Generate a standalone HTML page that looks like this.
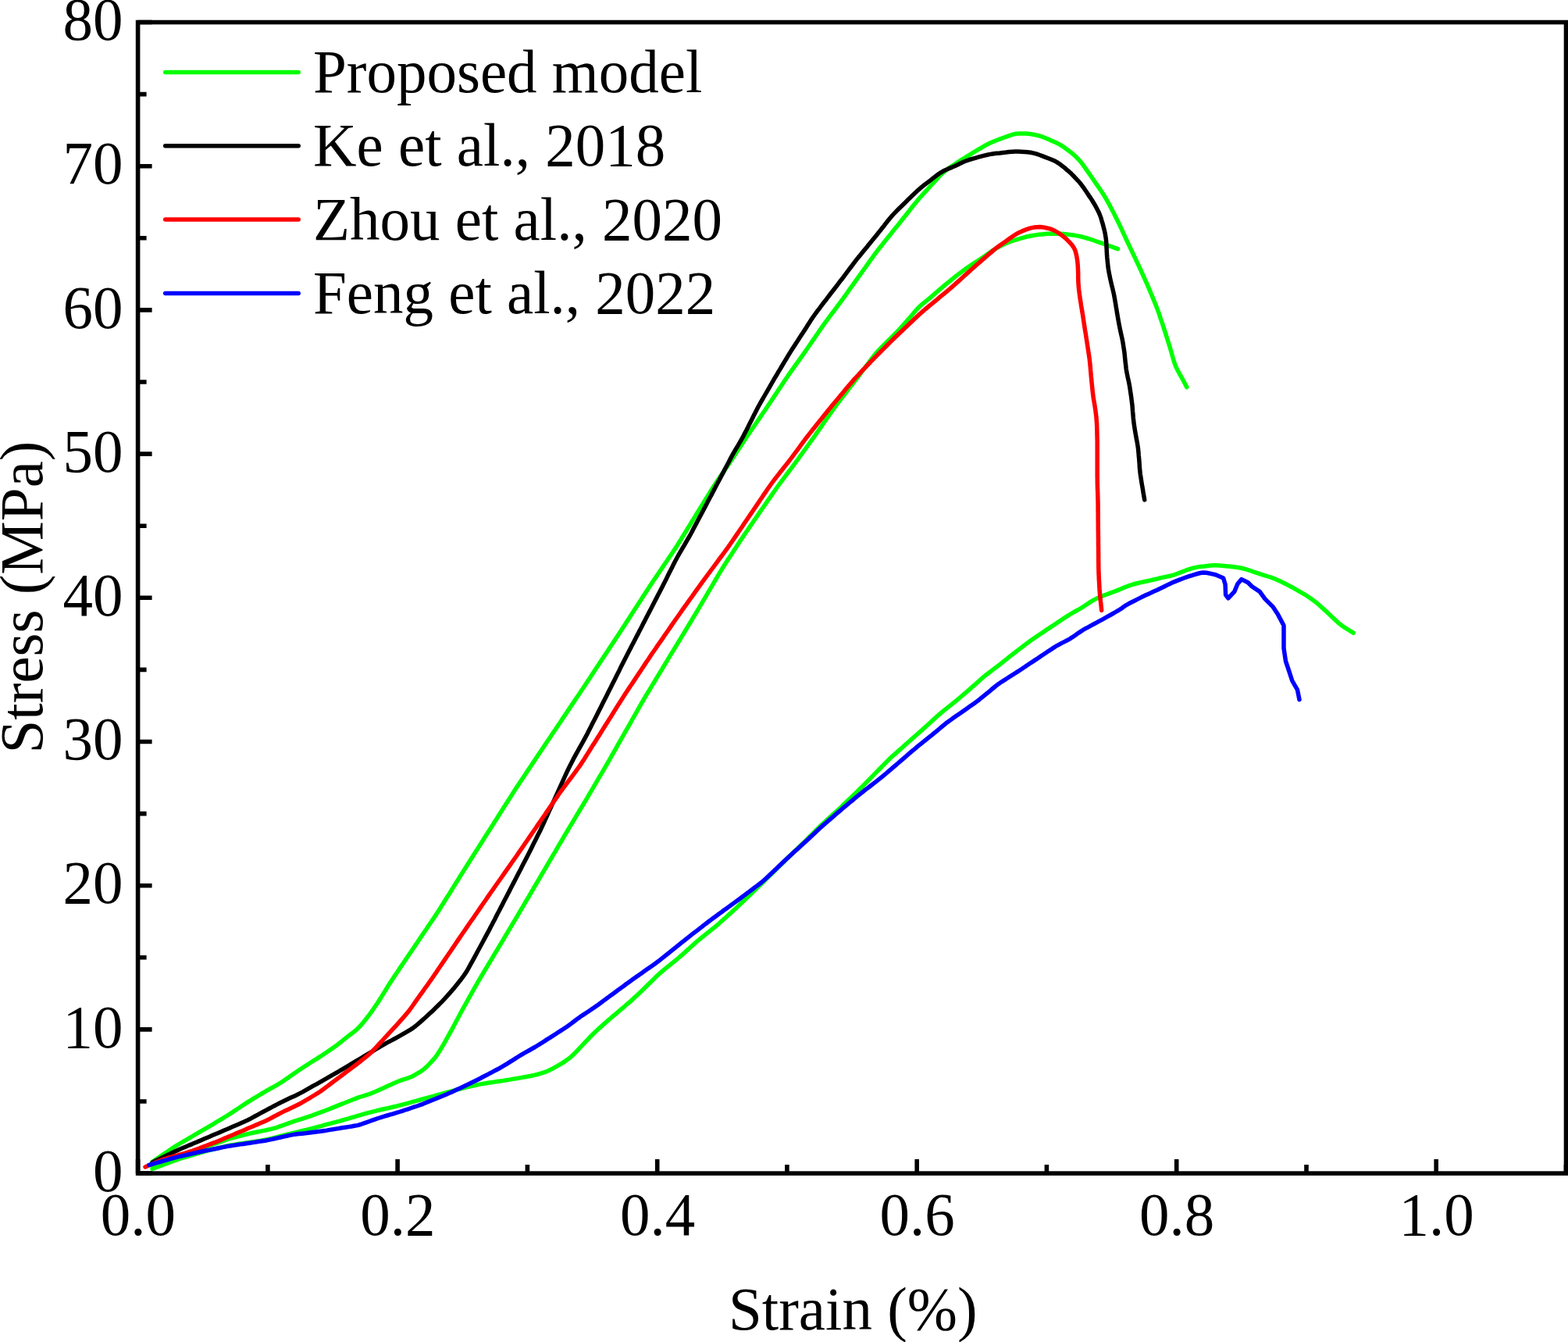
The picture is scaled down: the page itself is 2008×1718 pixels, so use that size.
<!DOCTYPE html>
<html><head><meta charset="utf-8"><title>Stress-strain</title>
<style>html,body{margin:0;padding:0;background:#fff;}body{width:2008px;height:1718px;overflow:hidden;}svg{display:block;}</style>
</head><body>
<svg width="2008" height="1718" viewBox="0 0 2008 1718"><rect width="2008" height="1718" fill="#fff"/><path d="M195.1,1496.4 L198.9,1495.0 L202.6,1493.6 L206.4,1492.2 L210.1,1490.7 L213.9,1489.3 L217.6,1487.9 L221.4,1486.5 L225.1,1485.2 L228.9,1483.9 L232.7,1482.7 L236.6,1481.6 L240.4,1480.4 L244.2,1479.3 L248.1,1478.1 L251.9,1477.0 L255.8,1475.8 L259.6,1474.8 L263.5,1473.7 L267.4,1472.7 L271.2,1471.8 L275.1,1470.8 L279.0,1469.8 L282.9,1468.9 L286.8,1467.9 L290.7,1467.0 L294.6,1466.2 L298.5,1465.6 L302.5,1464.9 L306.4,1464.3 L310.4,1463.8 L314.4,1463.2 L318.3,1462.6 L322.3,1462.0 L326.2,1461.4 L330.2,1460.8 L334.2,1460.2 L338.1,1459.5 L342.0,1458.8 L345.9,1457.9 L349.8,1457.0 L353.7,1456.0 L357.6,1454.9 L361.4,1453.9 L365.3,1452.9 L369.2,1451.9 L373.1,1451.0 L377.0,1450.1 L380.9,1449.2 L384.8,1448.2 L388.7,1447.3 L392.5,1446.4 L396.4,1445.4 L400.3,1444.4 L404.2,1443.3 L408.0,1442.3 L411.9,1441.3 L415.8,1440.2 L419.6,1439.2 L423.5,1438.2 L427.4,1437.1 L431.2,1436.1 L435.1,1435.1 L439.0,1434.0 L442.8,1432.9 L446.7,1431.8 L450.5,1430.7 L454.3,1429.6 L458.2,1428.4 L462.0,1427.3 L465.9,1426.2 L469.7,1425.1 L473.6,1424.1 L477.5,1423.1 L481.4,1422.2 L485.2,1421.2 L489.1,1420.3 L493.0,1419.5 L497.0,1418.6 L500.9,1417.7 L504.8,1416.8 L508.7,1415.9 L512.5,1414.9 L516.4,1413.9 L520.3,1412.8 L524.1,1411.8 L528.0,1410.7 L531.8,1409.6 L535.7,1408.6 L539.6,1407.5 L543.4,1406.5 L547.3,1405.4 L551.1,1404.3 L555.0,1403.3 L558.9,1402.2 L562.7,1401.2 L566.6,1400.1 L570.4,1399.0 L574.3,1398.0 L578.2,1396.9 L582.0,1395.9 L585.9,1394.9 L589.8,1393.8 L593.6,1392.8 L597.5,1391.8 L601.4,1390.8 L605.3,1390.0 L609.2,1389.2 L613.1,1388.4 L617.1,1387.6 L621.0,1387.0 L625.0,1386.3 L628.9,1385.7 L632.9,1385.1 L636.8,1384.6 L640.8,1384.0 L644.8,1383.4 L648.7,1382.7 L652.7,1382.1 L656.6,1381.4 L660.6,1380.8 L664.5,1380.1 L668.4,1379.4 L672.4,1378.7 L676.3,1378.0 L680.3,1377.3 L684.2,1376.4 L688.0,1375.5 L691.9,1374.4 L695.7,1373.2 L699.5,1371.9 L703.1,1370.3 L706.7,1368.6 L710.2,1366.7 L713.7,1364.7 L717.2,1362.7 L720.6,1360.6 L723.9,1358.4 L727.2,1356.1 L730.3,1353.6 L733.3,1351.0 L736.1,1348.2 L738.9,1345.3 L741.7,1342.4 L744.4,1339.5 L747.2,1336.6 L749.9,1333.7 L752.7,1330.8 L755.4,1327.9 L758.2,1325.0 L761.1,1322.2 L764.0,1319.5 L766.9,1316.8 L769.9,1314.1 L772.9,1311.4 L775.9,1308.8 L778.9,1306.1 L782.0,1303.5 L785.0,1300.9 L788.1,1298.3 L791.1,1295.8 L794.2,1293.2 L797.2,1290.6 L800.3,1288.0 L803.3,1285.4 L806.3,1282.8 L809.3,1280.1 L812.3,1277.4 L815.2,1274.7 L818.1,1271.9 L821.0,1269.2 L823.9,1266.4 L826.8,1263.6 L829.7,1260.8 L832.5,1258.0 L835.4,1255.2 L838.2,1252.4 L841.1,1249.6 L844.0,1246.9 L847.0,1244.3 L850.1,1241.7 L853.2,1239.2 L856.3,1236.7 L859.4,1234.2 L862.5,1231.6 L865.6,1229.1 L868.7,1226.5 L871.7,1223.9 L874.7,1221.3 L877.7,1218.6 L880.7,1215.9 L883.6,1213.2 L886.6,1210.5 L889.6,1207.9 L892.6,1205.2 L895.7,1202.7 L898.8,1200.1 L901.9,1197.6 L905.0,1195.1 L908.1,1192.6 L911.2,1190.1 L914.4,1187.6 L917.5,1185.1 L920.5,1182.5 L923.5,1179.8 L926.5,1177.1 L929.5,1174.5 L932.4,1171.8 L935.4,1169.1 L938.4,1166.4 L941.4,1163.7 L944.3,1161.0 L947.2,1158.3 L950.1,1155.5 L953.0,1152.7 L955.8,1149.9 L958.7,1147.2 L961.6,1144.4 L964.5,1141.6 L967.4,1138.8 L970.2,1136.0 L973.1,1133.2 L976.0,1130.5 L978.9,1127.7 L981.7,1124.9 L984.6,1122.1 L987.5,1119.3 L990.4,1116.6 L993.2,1113.8 L996.1,1110.9 L998.9,1108.1 L1001.8,1105.3 L1004.6,1102.5 L1007.4,1099.6 L1010.3,1096.8 L1013.2,1094.1 L1016.0,1091.3 L1018.9,1088.5 L1021.8,1085.8 L1024.7,1083.0 L1027.6,1080.2 L1030.5,1077.4 L1033.3,1074.6 L1036.1,1071.8 L1039.0,1068.9 L1041.8,1066.1 L1044.6,1063.3 L1047.5,1060.4 L1050.3,1057.6 L1053.2,1054.9 L1056.2,1052.2 L1059.1,1049.5 L1062.1,1046.8 L1065.1,1044.1 L1068.0,1041.4 L1071.0,1038.8 L1074.0,1036.1 L1076.9,1033.4 L1079.8,1030.6 L1082.7,1027.8 L1085.6,1025.1 L1088.5,1022.3 L1091.4,1019.5 L1094.2,1016.7 L1097.1,1013.9 L1100.0,1011.1 L1102.8,1008.3 L1105.7,1005.5 L1108.5,1002.6 L1111.3,999.8 L1114.1,996.9 L1116.9,994.1 L1119.7,991.2 L1122.5,988.4 L1125.3,985.5 L1128.1,982.7 L1130.9,979.8 L1133.7,977.0 L1136.6,974.1 L1139.4,971.3 L1142.3,968.6 L1145.3,965.9 L1148.3,963.3 L1151.3,960.6 L1154.3,958.0 L1157.3,955.3 L1160.3,952.7 L1163.3,950.0 L1166.3,947.3 L1169.3,944.7 L1172.3,942.0 L1175.3,939.4 L1178.3,936.7 L1181.3,934.1 L1184.2,931.4 L1187.2,928.7 L1190.2,926.0 L1193.1,923.3 L1196.1,920.6 L1199.0,917.9 L1202.0,915.3 L1205.1,912.7 L1208.2,910.1 L1211.3,907.6 L1214.4,905.2 L1217.6,902.7 L1220.7,900.2 L1223.8,897.6 L1226.9,895.1 L1229.9,892.5 L1233.0,889.9 L1236.0,887.3 L1239.1,884.7 L1242.1,882.1 L1245.1,879.4 L1248.1,876.8 L1251.1,874.1 L1254.1,871.5 L1257.1,868.8 L1260.1,866.2 L1263.2,863.7 L1266.4,861.3 L1269.6,858.8 L1272.8,856.4 L1276.0,854.0 L1279.1,851.6 L1282.3,849.1 L1285.4,846.6 L1288.6,844.1 L1291.7,841.6 L1294.8,839.1 L1298.0,836.7 L1301.2,834.2 L1304.3,831.8 L1307.5,829.4 L1310.7,826.9 L1313.9,824.5 L1317.1,822.1 L1320.3,819.7 L1323.6,817.5 L1326.9,815.2 L1330.2,813.0 L1333.6,810.8 L1336.9,808.6 L1340.2,806.3 L1343.5,804.1 L1346.9,801.9 L1350.2,799.7 L1353.5,797.4 L1356.9,795.2 L1360.2,793.0 L1363.5,790.8 L1366.9,788.6 L1370.3,786.5 L1373.7,784.5 L1377.2,782.5 L1380.7,780.6 L1384.2,778.6 L1387.6,776.5 L1390.9,774.3 L1394.2,772.1 L1397.6,769.9 L1401.0,767.9 L1404.6,766.1 L1408.2,764.5 L1411.9,762.9 L1415.7,761.5 L1419.4,760.1 L1423.2,758.7 L1426.9,757.4 L1430.7,755.9 L1434.4,754.4 L1438.0,752.8 L1441.7,751.3 L1445.5,749.9 L1449.3,748.6 L1453.1,747.5 L1457.0,746.5 L1460.9,745.6 L1464.8,744.8 L1468.7,744.0 L1472.6,743.1 L1476.5,742.2 L1480.4,741.3 L1484.3,740.3 L1488.2,739.4 L1492.1,738.6 L1496.0,737.8 L1499.9,737.0 L1503.7,735.8 L1507.4,734.5 L1511.2,733.0 L1514.9,731.6 L1518.6,730.2 L1522.4,728.9 L1526.2,727.7 L1530.1,726.7 L1534.0,725.9 L1538.0,725.3 L1541.9,724.9 L1545.9,724.4 L1549.9,724.1 L1553.9,723.8 L1557.9,723.7 L1561.8,723.9 L1565.8,724.3 L1569.8,724.7 L1573.8,725.1 L1577.7,725.5 L1581.7,726.0 L1585.7,726.5 L1589.6,727.3 L1593.5,728.2 L1597.3,729.3 L1601.1,730.5 L1604.9,731.8 L1608.7,733.1 L1612.5,734.3 L1616.3,735.6 L1620.1,736.8 L1623.9,738.0 L1627.7,739.2 L1631.5,740.6 L1635.2,742.2 L1638.8,743.8 L1642.4,745.5 L1646.0,747.3 L1649.6,749.1 L1653.1,751.0 L1656.6,752.9 L1660.1,754.8 L1663.6,756.8 L1667.1,758.8 L1670.5,760.8 L1673.9,763.0 L1677.2,765.2 L1680.5,767.5 L1683.7,769.9 L1686.8,772.4 L1689.9,775.0 L1692.8,777.7 L1695.8,780.4 L1698.7,783.1 L1701.6,785.8 L1704.5,788.6 L1707.4,791.3 L1710.4,794.1 L1713.3,796.8 L1716.4,799.3 L1719.6,801.7 L1722.9,803.9 L1726.3,806.0 L1729.7,808.1 L1733.1,810.2" fill="none" stroke="#00ff00" stroke-width="5.5" stroke-linejoin="round" stroke-linecap="round"/><path d="M194.3,1492.2 L198.1,1490.9 L201.8,1489.5 L205.6,1488.1 L209.3,1486.7 L213.1,1485.3 L216.8,1483.9 L220.6,1482.6 L224.4,1481.2 L228.1,1479.9 L231.9,1478.6 L235.7,1477.4 L239.5,1476.2 L243.3,1474.9 L247.2,1473.7 L251.0,1472.5 L254.8,1471.2 L258.6,1469.9 L262.3,1468.7 L266.1,1467.4 L269.9,1466.0 L273.7,1464.7 L277.5,1463.4 L281.2,1462.1 L285.0,1460.8 L288.8,1459.5 L292.6,1458.2 L296.4,1457.1 L300.3,1456.0 L304.2,1455.0 L308.0,1454.0 L311.9,1453.0 L315.8,1452.0 L319.7,1451.1 L323.6,1450.3 L327.5,1449.5 L331.4,1448.7 L335.3,1447.9 L339.3,1447.1 L343.2,1446.3 L347.1,1445.4 L350.9,1444.4 L354.8,1443.3 L358.5,1441.9 L362.3,1440.6 L366.0,1439.2 L369.8,1437.8 L373.6,1436.5 L377.4,1435.2 L381.2,1434.0 L385.0,1432.9 L388.8,1431.7 L392.6,1430.4 L396.4,1429.1 L400.2,1427.8 L403.9,1426.4 L407.7,1425.0 L411.4,1423.7 L415.2,1422.3 L418.9,1420.8 L422.7,1419.4 L426.4,1417.9 L430.1,1416.4 L433.8,1414.9 L437.5,1413.4 L441.2,1412.0 L444.9,1410.5 L448.7,1409.0 L452.4,1407.5 L456.1,1406.1 L459.9,1404.7 L463.7,1403.5 L467.5,1402.3 L471.3,1401.1 L475.1,1399.8 L478.8,1398.3 L482.5,1396.8 L486.1,1395.1 L489.8,1393.5 L493.4,1391.8 L497.0,1390.1 L500.7,1388.4 L504.3,1386.7 L507.9,1385.2 L511.7,1383.7 L515.4,1382.4 L519.3,1381.2 L523.0,1379.9 L526.7,1378.5 L530.3,1376.7 L533.7,1374.7 L537.2,1372.7 L540.5,1370.5 L543.6,1368.1 L546.6,1365.4 L549.4,1362.6 L552.1,1359.7 L554.8,1356.7 L557.4,1353.7 L559.7,1350.5 L561.9,1347.1 L564.0,1343.7 L566.0,1340.3 L568.1,1336.8 L570.1,1333.3 L572.0,1329.9 L574.0,1326.4 L575.9,1322.9 L577.9,1319.4 L579.8,1315.9 L581.7,1312.3 L583.5,1308.8 L585.4,1305.3 L587.3,1301.7 L589.1,1298.2 L591.0,1294.7 L593.0,1291.2 L594.9,1287.7 L596.9,1284.2 L598.8,1280.7 L600.8,1277.2 L602.7,1273.7 L604.7,1270.2 L606.6,1266.7 L608.6,1263.2 L610.6,1259.8 L612.5,1256.3 L614.6,1252.8 L616.6,1249.4 L618.7,1245.9 L620.7,1242.5 L622.8,1239.1 L624.8,1235.6 L626.9,1232.2 L628.9,1228.8 L631.0,1225.4 L633.0,1221.9 L635.1,1218.5 L637.2,1215.1 L639.2,1211.6 L641.3,1208.2 L643.3,1204.8 L645.4,1201.3 L647.4,1197.9 L649.5,1194.5 L651.5,1191.0 L653.6,1187.6 L655.6,1184.2 L657.7,1180.7 L659.7,1177.3 L661.8,1173.8 L663.8,1170.4 L665.8,1166.9 L667.9,1163.5 L669.9,1160.0 L671.9,1156.6 L673.9,1153.1 L676.0,1149.7 L678.0,1146.3 L680.0,1142.8 L682.1,1139.4 L684.1,1135.9 L686.1,1132.5 L688.1,1129.0 L690.2,1125.6 L692.2,1122.1 L694.2,1118.7 L696.3,1115.2 L698.3,1111.8 L700.3,1108.3 L702.3,1104.9 L704.4,1101.4 L706.4,1098.0 L708.4,1094.5 L710.5,1091.1 L712.5,1087.6 L714.5,1084.2 L716.5,1080.7 L718.6,1077.3 L720.6,1073.8 L722.6,1070.4 L724.7,1066.9 L726.7,1063.5 L728.7,1060.1 L730.8,1056.6 L732.9,1053.2 L734.9,1049.8 L737.0,1046.3 L739.0,1042.9 L741.1,1039.5 L743.2,1036.0 L745.2,1032.6 L747.3,1029.2 L749.3,1025.8 L751.4,1022.3 L753.4,1018.9 L755.4,1015.4 L757.5,1012.0 L759.5,1008.5 L761.5,1005.1 L763.6,1001.6 L765.6,998.2 L767.6,994.7 L769.6,991.3 L771.7,987.8 L773.7,984.4 L775.7,980.9 L777.7,977.5 L779.7,974.0 L781.7,970.5 L783.6,967.0 L785.6,963.6 L787.6,960.1 L789.6,956.6 L791.5,953.1 L793.5,949.6 L795.5,946.2 L797.5,942.7 L799.4,939.2 L801.4,935.7 L803.4,932.3 L805.4,928.8 L807.4,925.3 L809.3,921.8 L811.3,918.3 L813.3,914.9 L815.3,911.4 L817.2,907.9 L819.2,904.4 L821.2,900.9 L823.2,897.5 L825.2,894.0 L827.2,890.6 L829.3,887.1 L831.4,883.7 L833.4,880.3 L835.5,876.9 L837.6,873.5 L839.7,870.0 L841.7,866.6 L843.8,863.2 L845.9,859.8 L848.0,856.4 L850.0,852.9 L852.1,849.5 L854.2,846.1 L856.2,842.7 L858.3,839.2 L860.4,835.8 L862.5,832.4 L864.5,829.0 L866.6,825.6 L868.7,822.1 L870.8,818.7 L872.8,815.3 L874.9,811.9 L877.0,808.5 L879.1,805.0 L881.1,801.6 L883.2,798.2 L885.3,794.8 L887.3,791.3 L889.4,787.9 L891.5,784.5 L893.5,781.1 L895.6,777.6 L897.6,774.2 L899.6,770.7 L901.6,767.3 L903.7,763.8 L905.7,760.4 L907.7,756.9 L909.8,753.5 L911.8,750.0 L913.8,746.6 L915.8,743.1 L917.9,739.7 L919.9,736.2 L921.9,732.8 L924.0,729.4 L926.1,726.0 L928.3,722.6 L930.4,719.2 L932.6,715.9 L934.8,712.5 L937.0,709.2 L939.2,705.8 L941.4,702.5 L943.6,699.1 L945.7,695.8 L947.9,692.4 L950.2,689.1 L952.4,685.8 L954.6,682.5 L956.9,679.2 L959.2,675.9 L961.4,672.6 L963.7,669.3 L965.9,666.0 L968.2,662.7 L970.5,659.4 L972.7,656.1 L975.0,652.8 L977.3,649.5 L979.6,646.2 L981.9,642.9 L984.1,639.6 L986.4,636.4 L988.7,633.1 L991.0,629.8 L993.3,626.5 L995.6,623.2 L997.9,620.0 L1000.3,616.8 L1002.7,613.6 L1005.1,610.4 L1007.5,607.2 L1009.9,604.0 L1012.3,600.8 L1014.7,597.6 L1017.1,594.4 L1019.5,591.2 L1021.9,587.9 L1024.2,584.7 L1026.5,581.5 L1028.9,578.2 L1031.2,575.0 L1033.6,571.7 L1035.9,568.5 L1038.2,565.2 L1040.6,562.0 L1042.9,558.7 L1045.2,555.4 L1047.5,552.2 L1049.7,548.9 L1052.0,545.6 L1054.3,542.3 L1056.6,539.0 L1058.9,535.7 L1061.2,532.5 L1063.5,529.2 L1065.8,525.9 L1068.1,522.7 L1070.5,519.4 L1072.9,516.2 L1075.3,513.1 L1077.7,509.9 L1080.2,506.7 L1082.6,503.5 L1085.1,500.4 L1087.5,497.2 L1089.9,494.0 L1092.4,490.9 L1094.8,487.7 L1097.3,484.5 L1099.7,481.3 L1102.1,478.1 L1104.5,474.9 L1106.9,471.7 L1109.3,468.5 L1111.7,465.3 L1114.1,462.1 L1116.5,458.9 L1118.9,455.8 L1121.4,452.7 L1124.1,449.7 L1126.8,446.8 L1129.6,443.9 L1132.5,441.1 L1135.3,438.3 L1138.1,435.4 L1140.9,432.6 L1143.8,429.8 L1146.6,426.9 L1149.4,424.1 L1152.2,421.2 L1154.9,418.2 L1157.5,415.2 L1160.1,412.2 L1162.8,409.2 L1165.4,406.2 L1168.0,403.2 L1170.6,400.1 L1173.2,397.1 L1175.9,394.2 L1178.7,391.4 L1181.7,388.9 L1184.8,386.4 L1187.9,383.9 L1190.9,381.4 L1194.0,378.8 L1197.0,376.1 L1200.0,373.5 L1203.0,370.9 L1206.1,368.3 L1209.2,365.7 L1212.3,363.2 L1215.4,360.7 L1218.5,358.2 L1221.6,355.7 L1224.7,353.2 L1227.9,350.7 L1231.0,348.3 L1234.2,345.9 L1237.5,343.6 L1240.8,341.4 L1244.2,339.1 L1247.5,336.9 L1250.8,334.7 L1254.1,332.5 L1257.5,330.2 L1260.8,328.0 L1264.0,325.7 L1267.3,323.4 L1270.6,321.1 L1274.0,319.0 L1277.4,317.0 L1281.0,315.1 L1284.5,313.3 L1288.1,311.6 L1291.8,310.1 L1295.6,308.7 L1299.4,307.5 L1303.2,306.3 L1307.0,305.2 L1310.9,304.1 L1314.7,303.0 L1318.6,302.2 L1322.6,301.5 L1326.5,300.9 L1330.5,300.3 L1334.4,299.9 L1338.4,299.6 L1342.4,299.3 L1346.4,299.2 L1350.4,299.2 L1354.4,299.2 L1358.4,299.3 L1362.4,299.6 L1366.4,299.9 L1370.3,300.4 L1374.3,300.9 L1378.2,301.6 L1382.2,302.4 L1386.0,303.3 L1389.9,304.4 L1393.7,305.5 L1397.5,306.7 L1401.3,308.0 L1405.1,309.3 L1408.9,310.6 L1412.7,311.9 L1416.5,313.2 L1420.2,314.6 L1424.0,315.9 L1427.8,317.3 L1431.5,318.6" fill="none" stroke="#00ff00" stroke-width="5.5" stroke-linejoin="round" stroke-linecap="round"/><path d="M195.1,1487.2 L198.5,1485.0 L201.8,1482.8 L205.1,1480.5 L208.4,1478.3 L211.7,1476.0 L215.1,1473.8 L218.4,1471.6 L221.7,1469.3 L225.1,1467.2 L228.5,1465.0 L231.9,1463.0 L235.4,1461.0 L238.8,1459.0 L242.3,1457.0 L245.7,1455.0 L249.2,1452.9 L252.7,1450.9 L256.1,1448.9 L259.6,1446.9 L263.1,1444.9 L266.5,1442.9 L270.0,1440.8 L273.4,1438.8 L276.8,1436.7 L280.3,1434.7 L283.7,1432.6 L287.1,1430.5 L290.5,1428.5 L293.9,1426.3 L297.3,1424.1 L300.6,1421.9 L303.9,1419.7 L307.3,1417.5 L310.6,1415.3 L313.9,1413.1 L317.3,1410.9 L320.7,1408.8 L324.1,1406.7 L327.6,1404.6 L331.0,1402.6 L334.4,1400.5 L337.9,1398.5 L341.3,1396.4 L344.8,1394.5 L348.3,1392.5 L351.8,1390.6 L355.3,1388.6 L358.7,1386.5 L362.1,1384.4 L365.4,1382.1 L368.7,1379.9 L371.9,1377.6 L375.2,1375.3 L378.5,1373.0 L381.8,1370.7 L385.1,1368.5 L388.5,1366.3 L391.9,1364.1 L395.2,1362.0 L398.6,1359.8 L402.0,1357.7 L405.4,1355.6 L408.7,1353.4 L412.1,1351.2 L415.4,1349.0 L418.8,1346.8 L422.1,1344.5 L425.4,1342.3 L428.7,1340.0 L431.9,1337.6 L435.0,1335.1 L438.2,1332.6 L441.3,1330.1 L444.4,1327.7 L447.6,1325.2 L450.8,1322.8 L453.9,1320.3 L457.0,1317.8 L459.9,1315.0 L462.5,1312.1 L465.1,1309.0 L467.6,1305.9 L470.1,1302.7 L472.5,1299.6 L474.9,1296.3 L477.2,1293.1 L479.5,1289.8 L481.7,1286.5 L484.0,1283.2 L486.1,1279.8 L488.3,1276.4 L490.4,1273.0 L492.5,1269.6 L494.6,1266.2 L496.7,1262.8 L498.8,1259.4 L501.0,1256.1 L503.2,1252.7 L505.4,1249.4 L507.7,1246.0 L509.9,1242.7 L512.1,1239.4 L514.3,1236.1 L516.6,1232.8 L518.8,1229.4 L521.1,1226.1 L523.3,1222.8 L525.6,1219.5 L527.8,1216.2 L530.1,1212.9 L532.3,1209.6 L534.6,1206.2 L536.8,1202.9 L539.0,1199.6 L541.3,1196.3 L543.5,1193.0 L545.8,1189.7 L548.0,1186.4 L550.3,1183.0 L552.5,1179.7 L554.8,1176.4 L557.0,1173.1 L559.2,1169.8 L561.4,1166.4 L563.5,1163.0 L565.7,1159.6 L567.8,1156.2 L569.9,1152.8 L572.0,1149.4 L574.2,1146.1 L576.3,1142.7 L578.4,1139.3 L580.5,1135.9 L582.6,1132.5 L584.8,1129.1 L586.9,1125.7 L589.0,1122.3 L591.1,1118.9 L593.3,1115.5 L595.4,1112.1 L597.5,1108.7 L599.7,1105.4 L601.8,1102.0 L604.0,1098.6 L606.1,1095.2 L608.3,1091.8 L610.4,1088.5 L612.6,1085.1 L614.7,1081.7 L616.9,1078.3 L619.0,1074.9 L621.1,1071.6 L623.3,1068.2 L625.4,1064.8 L627.6,1061.4 L629.7,1058.0 L631.9,1054.7 L634.0,1051.3 L636.2,1047.9 L638.3,1044.5 L640.5,1041.1 L642.6,1037.8 L644.7,1034.4 L646.9,1031.0 L649.0,1027.6 L651.2,1024.2 L653.3,1020.9 L655.5,1017.5 L657.6,1014.1 L659.8,1010.7 L662.0,1007.4 L664.2,1004.1 L666.4,1000.7 L668.7,997.4 L670.9,994.1 L673.1,990.7 L675.3,987.4 L677.5,984.1 L679.8,980.7 L682.0,977.4 L684.2,974.1 L686.4,970.8 L688.6,967.4 L690.9,964.1 L693.1,960.8 L695.3,957.5 L697.6,954.1 L699.8,950.8 L702.0,947.5 L704.3,944.2 L706.5,940.8 L708.7,937.5 L711.0,934.2 L713.2,930.9 L715.4,927.5 L717.7,924.2 L719.9,920.9 L722.1,917.6 L724.4,914.2 L726.6,910.9 L728.8,907.6 L731.0,904.3 L733.3,900.9 L735.5,897.6 L737.7,894.3 L740.0,891.0 L742.2,887.7 L744.4,884.3 L746.7,881.0 L748.9,877.7 L751.1,874.3 L753.3,871.0 L755.5,867.7 L757.7,864.3 L759.9,861.0 L762.1,857.6 L764.3,854.3 L766.5,850.9 L768.7,847.6 L770.9,844.3 L773.1,840.9 L775.3,837.6 L777.6,834.2 L779.8,830.9 L782.0,827.5 L784.2,824.2 L786.4,820.9 L788.6,817.5 L790.8,814.2 L793.0,810.8 L795.2,807.5 L797.4,804.1 L799.6,800.8 L801.7,797.4 L803.9,794.1 L806.1,790.7 L808.2,787.3 L810.4,784.0 L812.6,780.6 L814.8,777.2 L816.9,773.9 L819.1,770.5 L821.3,767.2 L823.4,763.8 L825.6,760.4 L827.8,757.1 L830.0,753.7 L832.2,750.4 L834.4,747.0 L836.6,743.7 L838.9,740.4 L841.1,737.1 L843.4,733.8 L845.6,730.5 L847.9,727.1 L850.1,723.8 L852.3,720.5 L854.6,717.2 L856.8,713.9 L859.1,710.6 L861.3,707.3 L863.6,703.9 L865.8,700.6 L867.9,697.2 L870.0,693.8 L872.2,690.4 L874.2,687.0 L876.3,683.6 L878.4,680.2 L880.5,676.8 L882.6,673.4 L884.7,670.0 L886.8,666.5 L888.9,663.1 L891.0,659.7 L893.1,656.3 L895.2,652.9 L897.3,649.5 L899.4,646.1 L901.5,642.7 L903.6,639.3 L905.7,635.8 L907.8,632.4 L909.9,629.0 L912.0,625.6 L914.2,622.3 L916.4,618.9 L918.6,615.6 L920.9,612.3 L923.1,609.0 L925.4,605.7 L927.6,602.4 L929.9,599.1 L932.2,595.8 L934.4,592.5 L936.6,589.1 L938.9,585.8 L941.1,582.5 L943.3,579.1 L945.4,575.8 L947.6,572.4 L949.8,569.1 L952.0,565.7 L954.2,562.4 L956.4,559.0 L958.7,555.7 L960.9,552.4 L963.2,549.1 L965.5,545.8 L967.7,542.5 L970.0,539.2 L972.3,535.9 L974.5,532.6 L976.8,529.3 L979.1,526.0 L981.3,522.7 L983.5,519.4 L985.7,516.0 L988.0,512.7 L990.2,509.4 L992.4,506.0 L994.6,502.7 L996.8,499.4 L999.1,496.0 L1001.3,492.7 L1003.5,489.4 L1005.7,486.0 L1008.0,482.7 L1010.3,479.4 L1012.6,476.2 L1014.9,472.9 L1017.2,469.7 L1019.5,466.4 L1021.9,463.1 L1024.2,459.9 L1026.5,456.6 L1028.8,453.4 L1031.1,450.1 L1033.4,446.8 L1035.7,443.5 L1037.9,440.2 L1040.2,436.9 L1042.5,433.6 L1044.7,430.3 L1047.0,427.0 L1049.2,423.7 L1051.5,420.4 L1053.8,417.1 L1056.1,413.8 L1058.5,410.6 L1060.9,407.4 L1063.3,404.2 L1065.7,401.0 L1068.1,397.8 L1070.5,394.6 L1072.9,391.4 L1075.3,388.2 L1077.7,385.0 L1080.0,381.7 L1082.4,378.5 L1084.7,375.2 L1087.0,371.9 L1089.3,368.7 L1091.7,365.4 L1094.0,362.2 L1096.3,358.9 L1098.6,355.7 L1101.0,352.4 L1103.3,349.1 L1105.6,345.9 L1108.0,342.6 L1110.3,339.4 L1112.6,336.1 L1114.9,332.8 L1117.3,329.6 L1119.6,326.3 L1122.0,323.1 L1124.4,320.0 L1126.9,316.8 L1129.4,313.7 L1131.9,310.6 L1134.4,307.4 L1136.9,304.3 L1139.4,301.2 L1141.9,298.1 L1144.4,294.9 L1146.9,291.8 L1149.5,288.7 L1152.0,285.6 L1154.4,282.4 L1156.9,279.3 L1159.4,276.2 L1161.9,273.0 L1164.4,269.9 L1166.8,266.7 L1169.3,263.6 L1171.8,260.5 L1174.4,257.4 L1177.0,254.3 L1179.6,251.3 L1182.3,248.4 L1185.0,245.4 L1187.7,242.5 L1190.4,239.5 L1193.1,236.5 L1195.8,233.6 L1198.5,230.6 L1201.2,227.6 L1203.9,224.7 L1206.7,221.9 L1209.7,219.3 L1212.9,216.9 L1216.2,214.6 L1219.5,212.4 L1222.8,210.2 L1226.2,207.9 L1229.5,205.7 L1232.9,203.6 L1236.3,201.5 L1239.7,199.4 L1243.1,197.3 L1246.5,195.2 L1250.0,193.2 L1253.4,191.1 L1256.8,189.1 L1260.3,187.0 L1263.8,185.1 L1267.3,183.3 L1271.0,181.7 L1274.7,180.2 L1278.4,178.8 L1282.2,177.4 L1285.9,176.0 L1289.7,174.6 L1293.5,173.3 L1297.2,172.1 L1301.1,171.3 L1305.0,170.9 L1309.0,170.9 L1313.0,171.0 L1317.0,171.3 L1320.9,171.8 L1324.9,172.5 L1328.8,173.4 L1332.6,174.4 L1336.4,175.7 L1340.1,177.2 L1343.8,178.8 L1347.4,180.4 L1351.1,182.0 L1354.7,183.7 L1358.2,185.6 L1361.5,187.8 L1364.8,190.1 L1368.0,192.5 L1371.2,194.9 L1374.3,197.4 L1377.2,200.1 L1380.1,202.9 L1382.8,205.8 L1385.4,208.9 L1387.7,212.1 L1390.0,215.3 L1392.3,218.6 L1394.6,221.9 L1396.9,225.2 L1399.2,228.5 L1401.4,231.8 L1403.7,235.1 L1406.0,238.4 L1408.3,241.7 L1410.5,245.0 L1412.7,248.3 L1414.8,251.7 L1416.8,255.2 L1418.8,258.7 L1420.7,262.2 L1422.6,265.7 L1424.4,269.3 L1426.3,272.8 L1428.1,276.4 L1429.9,280.0 L1431.6,283.6 L1433.4,287.2 L1435.1,290.8 L1436.8,294.4 L1438.4,298.1 L1440.1,301.7 L1441.8,305.4 L1443.5,309.0 L1445.2,312.6 L1446.9,316.2 L1448.6,319.8 L1450.3,323.4 L1452.1,327.1 L1453.8,330.7 L1455.5,334.3 L1457.2,337.9 L1458.9,341.5 L1460.6,345.2 L1462.2,348.8 L1463.9,352.5 L1465.5,356.1 L1467.2,359.8 L1468.8,363.4 L1470.4,367.1 L1472.0,370.8 L1473.5,374.5 L1475.1,378.2 L1476.6,381.9 L1478.1,385.6 L1479.6,389.3 L1481.1,393.0 L1482.5,396.7 L1483.9,400.5 L1485.2,404.3 L1486.4,408.1 L1487.7,411.9 L1489.0,415.7 L1490.2,419.5 L1491.5,423.3 L1492.7,427.1 L1493.9,430.9 L1495.1,434.7 L1496.3,438.6 L1497.5,442.4 L1498.7,446.2 L1499.8,450.0 L1500.9,453.9 L1502.0,457.8 L1503.1,461.6 L1504.3,465.4 L1505.7,469.1 L1507.4,472.7 L1509.3,476.2 L1511.2,479.7 L1513.2,483.2 L1515.1,486.8 L1517.0,490.3 L1519.8,495.6" fill="none" stroke="#00ff00" stroke-width="5.5" stroke-linejoin="round" stroke-linecap="round"/><path d="M195.1,1488.1 L198.7,1486.3 L202.3,1484.6 L205.9,1482.8 L209.5,1481.1 L213.1,1479.3 L216.7,1477.6 L220.3,1475.8 L224.0,1474.1 L227.6,1472.5 L231.3,1470.8 L234.9,1469.3 L238.6,1467.7 L242.3,1466.1 L246.0,1464.6 L249.7,1463.0 L253.4,1461.4 L257.1,1459.9 L260.7,1458.3 L264.4,1456.7 L268.1,1455.2 L271.8,1453.6 L275.5,1452.0 L279.2,1450.5 L282.8,1448.9 L286.5,1447.3 L290.2,1445.8 L293.9,1444.2 L297.6,1442.6 L301.2,1441.0 L304.9,1439.4 L308.6,1437.8 L312.2,1436.2 L315.9,1434.6 L319.5,1432.8 L323.0,1430.9 L326.5,1429.0 L330.0,1427.1 L333.5,1425.2 L337.1,1423.3 L340.6,1421.4 L344.1,1419.5 L347.7,1417.6 L351.2,1415.7 L354.7,1413.9 L358.3,1412.0 L361.9,1410.3 L365.5,1408.5 L369.1,1406.8 L372.7,1405.1 L376.4,1403.4 L380.0,1401.7 L383.6,1399.9 L387.1,1398.1 L390.6,1396.2 L394.1,1394.2 L397.6,1392.2 L401.0,1390.2 L404.5,1388.3 L408.0,1386.3 L411.5,1384.3 L415.0,1382.3 L418.5,1380.4 L421.9,1378.4 L425.4,1376.4 L428.9,1374.4 L432.4,1372.5 L435.8,1370.4 L439.3,1368.4 L442.7,1366.3 L446.1,1364.3 L449.6,1362.2 L453.0,1360.2 L456.4,1358.1 L459.9,1356.0 L463.3,1354.0 L466.7,1351.9 L470.2,1349.9 L473.6,1347.8 L477.0,1345.8 L480.5,1343.7 L483.9,1341.6 L487.3,1339.6 L490.8,1337.6 L494.3,1335.6 L497.8,1333.7 L501.4,1331.9 L504.9,1330.0 L508.4,1328.1 L511.9,1326.2 L515.4,1324.2 L518.9,1322.2 L522.3,1320.2 L525.7,1318.1 L529.1,1315.9 L532.2,1313.5 L535.3,1310.9 L538.3,1308.3 L541.3,1305.6 L544.3,1303.0 L547.3,1300.3 L550.2,1297.6 L553.2,1294.9 L556.1,1292.1 L558.9,1289.3 L561.7,1286.5 L564.6,1283.6 L567.3,1280.8 L570.1,1277.8 L572.8,1274.9 L575.4,1271.9 L578.1,1268.9 L580.7,1265.9 L583.2,1262.8 L585.7,1259.7 L588.2,1256.5 L590.7,1253.4 L593.1,1250.2 L595.4,1246.9 L597.6,1243.6 L599.6,1240.1 L601.5,1236.6 L603.4,1233.1 L605.4,1229.6 L607.3,1226.1 L609.2,1222.6 L611.1,1219.0 L613.0,1215.5 L614.9,1212.0 L616.8,1208.5 L618.7,1205.0 L620.6,1201.4 L622.5,1197.9 L624.4,1194.4 L626.3,1190.9 L628.1,1187.3 L630.0,1183.8 L631.8,1180.2 L633.7,1176.7 L635.5,1173.1 L637.3,1169.5 L639.2,1166.0 L641.0,1162.4 L642.9,1158.9 L644.7,1155.3 L646.5,1151.8 L648.4,1148.2 L650.2,1144.7 L652.1,1141.1 L653.9,1137.5 L655.7,1134.0 L657.6,1130.4 L659.4,1126.9 L661.3,1123.3 L663.1,1119.8 L664.9,1116.2 L666.8,1112.7 L668.6,1109.1 L670.4,1105.6 L672.3,1102.0 L674.1,1098.4 L675.9,1094.9 L677.8,1091.3 L679.6,1087.7 L681.3,1084.2 L683.1,1080.6 L684.9,1077.0 L686.7,1073.4 L688.5,1069.8 L690.3,1066.2 L692.1,1062.7 L693.8,1059.0 L695.5,1055.4 L697.1,1051.8 L698.8,1048.1 L700.5,1044.5 L702.1,1040.8 L703.8,1037.2 L705.4,1033.6 L707.1,1029.9 L708.7,1026.3 L710.4,1022.6 L712.0,1019.0 L713.7,1015.3 L715.4,1011.7 L717.0,1008.1 L718.7,1004.4 L720.3,1000.8 L722.0,997.1 L723.6,993.5 L725.3,989.8 L727.0,986.2 L728.8,982.6 L730.6,979.0 L732.4,975.5 L734.2,971.9 L736.1,968.4 L738.0,964.9 L740.0,961.4 L741.9,957.9 L743.9,954.4 L745.9,950.9 L747.8,947.4 L749.7,943.9 L751.6,940.4 L753.4,936.8 L755.2,933.2 L757.0,929.7 L758.8,926.1 L760.7,922.5 L762.5,919.0 L764.3,915.4 L766.1,911.8 L767.9,908.3 L769.7,904.7 L771.5,901.1 L773.3,897.5 L775.1,894.0 L776.9,890.4 L778.7,886.8 L780.5,883.2 L782.3,879.7 L784.1,876.1 L785.9,872.5 L787.7,868.9 L789.5,865.3 L791.3,861.8 L793.1,858.2 L794.8,854.6 L796.6,851.0 L798.4,847.4 L800.2,843.9 L802.1,840.3 L803.9,836.7 L805.7,833.2 L807.6,829.6 L809.4,826.1 L811.3,822.5 L813.1,819.0 L814.9,815.4 L816.8,811.9 L818.6,808.3 L820.5,804.7 L822.3,801.2 L824.1,797.6 L826.0,794.1 L827.8,790.5 L829.6,787.0 L831.5,783.4 L833.3,779.9 L835.2,776.3 L837.0,772.7 L838.8,769.2 L840.7,765.6 L842.5,762.1 L844.4,758.5 L846.2,755.0 L848.0,751.4 L849.9,747.8 L851.7,744.3 L853.5,740.7 L855.2,737.1 L857.0,733.5 L858.8,730.0 L860.6,726.4 L862.4,722.8 L864.2,719.2 L866.1,715.7 L868.0,712.2 L870.0,708.7 L872.0,705.3 L874.0,701.8 L876.1,698.4 L878.1,694.9 L880.1,691.4 L882.1,688.0 L884.1,684.5 L886.0,681.0 L887.8,677.4 L889.7,673.9 L891.6,670.4 L893.5,666.8 L895.3,663.3 L897.2,659.7 L899.1,656.2 L900.9,652.7 L902.8,649.1 L904.7,645.6 L906.5,642.0 L908.4,638.5 L910.3,635.0 L912.1,631.4 L914.0,627.9 L915.9,624.3 L917.7,620.8 L919.6,617.3 L921.5,613.7 L923.3,610.2 L925.2,606.6 L927.1,603.1 L928.9,599.5 L930.8,596.0 L932.7,592.5 L934.5,588.9 L936.4,585.4 L938.3,581.9 L940.3,578.4 L942.3,574.9 L944.4,571.5 L946.4,568.0 L948.4,564.6 L950.4,561.1 L952.3,557.6 L954.1,554.0 L956.0,550.5 L957.8,546.9 L959.6,543.3 L961.4,539.8 L963.2,536.2 L965.0,532.6 L966.8,529.0 L968.6,525.5 L970.4,521.9 L972.4,518.4 L974.3,514.9 L976.3,511.5 L978.3,508.0 L980.3,504.5 L982.3,501.1 L984.3,497.6 L986.3,494.1 L988.3,490.7 L990.3,487.2 L992.3,483.7 L994.4,480.3 L996.4,476.8 L998.5,473.4 L1000.5,470.0 L1002.6,466.5 L1004.6,463.1 L1006.7,459.7 L1008.8,456.2 L1010.9,452.8 L1013.0,449.4 L1015.1,446.1 L1017.3,442.7 L1019.5,439.3 L1021.7,436.0 L1023.9,432.6 L1026.0,429.3 L1028.2,425.9 L1030.4,422.6 L1032.6,419.2 L1034.7,415.8 L1036.9,412.4 L1039.0,409.1 L1041.3,405.8 L1043.6,402.5 L1045.9,399.3 L1048.4,396.1 L1050.8,392.9 L1053.2,389.7 L1055.6,386.5 L1058.1,383.4 L1060.5,380.2 L1062.9,377.0 L1065.4,373.8 L1067.8,370.7 L1070.3,367.5 L1072.7,364.3 L1075.1,361.1 L1077.6,358.0 L1080.0,354.8 L1082.4,351.6 L1084.8,348.4 L1087.2,345.2 L1089.6,342.0 L1092.0,338.8 L1094.4,335.6 L1096.9,332.4 L1099.4,329.3 L1102.0,326.2 L1104.5,323.1 L1107.0,320.0 L1109.6,316.9 L1112.1,313.8 L1114.6,310.7 L1117.2,307.6 L1119.7,304.5 L1122.2,301.4 L1124.7,298.3 L1127.2,295.2 L1129.7,292.0 L1132.2,288.9 L1134.6,285.7 L1137.1,282.6 L1139.6,279.5 L1142.2,276.4 L1144.9,273.5 L1147.7,270.6 L1150.5,267.8 L1153.4,265.0 L1156.2,262.2 L1159.1,259.4 L1162.0,256.6 L1164.8,253.8 L1167.7,251.0 L1170.6,248.2 L1173.5,245.5 L1176.4,242.8 L1179.5,240.2 L1182.6,237.7 L1185.8,235.2 L1188.9,232.8 L1192.1,230.3 L1195.2,227.9 L1198.4,225.4 L1201.6,223.0 L1204.9,220.8 L1208.3,218.8 L1211.9,217.2 L1215.6,215.6 L1219.3,214.1 L1223.0,212.5 L1226.6,210.7 L1230.2,209.0 L1233.8,207.3 L1237.5,205.8 L1241.3,204.5 L1245.1,203.4 L1248.9,202.3 L1252.8,201.2 L1256.6,200.2 L1260.5,199.1 L1264.4,198.2 L1268.3,197.4 L1272.3,196.8 L1276.2,196.3 L1280.2,195.9 L1284.2,195.4 L1288.2,195.0 L1292.1,194.5 L1296.1,194.2 L1300.1,194.0 L1304.1,194.0 L1308.1,194.2 L1312.1,194.5 L1316.0,194.8 L1320.0,195.3 L1323.9,196.1 L1327.7,197.2 L1331.5,198.5 L1335.2,199.9 L1339.0,201.3 L1342.7,202.7 L1346.4,204.2 L1350.1,205.8 L1353.5,207.6 L1356.8,209.8 L1360.0,212.2 L1363.2,214.7 L1366.2,217.3 L1369.3,219.9 L1372.2,222.6 L1375.0,225.5 L1377.7,228.4 L1380.5,231.3 L1383.1,234.3 L1385.5,237.4 L1387.9,240.7 L1390.2,244.0 L1392.4,247.3 L1394.6,250.6 L1396.9,253.9 L1399.0,257.3 L1401.1,260.7 L1403.1,264.2 L1405.0,267.7 L1406.8,271.2 L1408.4,274.9 L1409.8,278.6 L1410.9,282.5 L1412.1,286.3 L1413.1,290.2 L1414.1,294.0 L1415.0,297.9 L1415.7,301.9 L1416.3,305.8 L1416.7,309.8 L1416.9,313.8 L1417.1,317.8 L1417.3,321.8 L1417.5,325.8 L1417.8,329.7 L1418.2,333.7 L1418.6,337.7 L1419.0,341.7 L1419.6,345.6 L1420.3,349.6 L1421.1,353.5 L1421.9,357.4 L1422.8,361.3 L1423.7,365.2 L1424.7,369.1 L1425.6,373.0 L1426.5,376.9 L1427.2,380.8 L1427.9,384.8 L1428.6,388.7 L1429.2,392.7 L1429.9,396.6 L1430.5,400.6 L1431.2,404.5 L1431.9,408.5 L1432.6,412.4 L1433.3,416.3 L1434.1,420.3 L1434.9,424.2 L1435.8,428.1 L1436.7,432.0 L1437.5,435.9 L1438.2,439.8 L1438.8,443.8 L1439.4,447.7 L1440.0,451.7 L1440.4,455.7 L1440.8,459.7 L1441.2,463.7 L1441.7,467.6 L1442.1,471.6 L1442.7,475.6 L1443.5,479.5 L1444.3,483.4 L1445.2,487.3 L1446.0,491.2 L1446.7,495.1 L1447.3,499.1 L1447.9,503.1 L1448.5,507.0 L1449.0,511.0 L1449.5,515.0 L1450.0,518.9 L1450.3,522.9 L1450.6,526.9 L1451.0,530.9 L1451.3,534.9 L1451.7,538.9 L1452.2,542.8 L1452.8,546.8 L1453.4,550.7 L1454.1,554.7 L1454.8,558.6 L1455.5,562.6 L1456.3,566.5 L1456.9,570.4 L1457.5,574.4 L1457.9,578.4 L1458.2,582.4 L1458.6,586.4 L1458.9,590.3 L1459.2,594.3 L1459.4,598.3 L1459.8,602.3 L1460.2,606.3 L1460.8,610.2 L1461.4,614.2 L1462.0,618.1 L1462.7,622.1 L1463.4,626.0 L1464.0,630.0 L1464.7,633.9 L1465.7,639.9" fill="none" stroke="#000000" stroke-width="5.5" stroke-linejoin="round" stroke-linecap="round"/><path d="M186.0,1493.9 L189.7,1492.3 L193.3,1490.8 L197.0,1489.2 L200.7,1487.6 L204.4,1486.1 L208.1,1484.6 L211.9,1483.3 L215.7,1482.2 L219.6,1481.1 L223.4,1480.0 L227.3,1479.0 L231.1,1477.9 L235.0,1476.8 L238.8,1475.7 L242.7,1474.5 L246.4,1473.3 L250.2,1471.9 L254.0,1470.5 L257.7,1469.1 L261.5,1467.7 L265.2,1466.3 L268.9,1464.9 L272.7,1463.4 L276.4,1462.0 L280.1,1460.5 L283.8,1458.9 L287.5,1457.3 L291.2,1455.8 L294.8,1454.2 L298.5,1452.7 L302.2,1451.1 L305.9,1449.5 L309.6,1448.0 L313.3,1446.4 L316.9,1444.8 L320.6,1443.3 L324.3,1441.7 L328.0,1440.1 L331.7,1438.6 L335.3,1437.0 L339.0,1435.4 L342.6,1433.7 L346.2,1431.9 L349.7,1430.0 L353.2,1428.1 L356.8,1426.2 L360.3,1424.4 L363.9,1422.6 L367.5,1420.9 L371.2,1419.2 L374.8,1417.5 L378.4,1415.8 L382.0,1414.0 L385.5,1412.2 L389.0,1410.2 L392.4,1408.2 L395.9,1406.1 L399.3,1404.0 L402.7,1402.0 L406.1,1399.9 L409.5,1397.7 L412.7,1395.4 L416.0,1393.0 L419.2,1390.6 L422.4,1388.2 L425.6,1385.8 L428.8,1383.4 L432.0,1381.0 L435.2,1378.6 L438.4,1376.2 L441.6,1373.8 L444.8,1371.4 L448.0,1369.0 L451.2,1366.6 L454.4,1364.2 L457.6,1361.8 L460.7,1359.3 L463.9,1356.8 L467.0,1354.3 L470.1,1351.8 L473.1,1349.3 L476.1,1346.6 L478.9,1343.7 L481.6,1340.8 L484.3,1337.9 L487.0,1334.9 L489.7,1332.0 L492.4,1329.0 L495.1,1326.1 L497.8,1323.1 L500.6,1320.2 L503.3,1317.2 L506.0,1314.3 L508.7,1311.3 L511.4,1308.4 L514.0,1305.4 L516.7,1302.4 L519.3,1299.4 L521.9,1296.3 L524.4,1293.2 L526.7,1290.0 L529.0,1286.7 L531.3,1283.4 L533.6,1280.1 L535.9,1276.9 L538.2,1273.6 L540.6,1270.3 L542.9,1267.1 L545.2,1263.8 L547.6,1260.6 L549.9,1257.3 L552.2,1254.1 L554.5,1250.8 L556.7,1247.5 L559.0,1244.2 L561.2,1240.8 L563.5,1237.5 L565.7,1234.2 L568.0,1230.9 L570.2,1227.6 L572.5,1224.3 L574.7,1221.0 L577.0,1217.7 L579.2,1214.4 L581.5,1211.1 L583.7,1207.8 L586.0,1204.4 L588.2,1201.1 L590.5,1197.8 L592.7,1194.5 L595.0,1191.2 L597.3,1187.9 L599.5,1184.6 L601.8,1181.3 L604.1,1178.0 L606.4,1174.8 L608.6,1171.5 L610.9,1168.2 L613.2,1164.9 L615.4,1161.6 L617.7,1158.3 L620.0,1155.0 L622.3,1151.7 L624.5,1148.4 L626.8,1145.1 L629.1,1141.8 L631.4,1138.6 L633.7,1135.3 L636.0,1132.0 L638.3,1128.7 L640.6,1125.5 L642.9,1122.2 L645.2,1118.9 L647.5,1115.6 L649.8,1112.4 L652.1,1109.1 L654.4,1105.8 L656.7,1102.5 L659.0,1099.2 L661.3,1096.0 L663.5,1092.7 L665.8,1089.4 L668.1,1086.1 L670.4,1082.8 L672.6,1079.5 L674.9,1076.2 L677.2,1072.9 L679.4,1069.6 L681.7,1066.3 L684.0,1063.0 L686.3,1059.7 L688.5,1056.4 L690.8,1053.1 L693.1,1049.8 L695.3,1046.5 L697.6,1043.2 L699.8,1039.9 L702.1,1036.6 L704.3,1033.3 L706.6,1030.0 L708.8,1026.7 L711.1,1023.4 L713.4,1020.1 L715.6,1016.8 L717.9,1013.5 L720.3,1010.3 L722.7,1007.1 L725.1,1003.9 L727.5,1000.7 L729.9,997.5 L732.3,994.3 L734.7,991.1 L737.1,987.9 L739.4,984.6 L741.8,981.4 L744.0,978.1 L746.2,974.8 L748.4,971.4 L750.5,968.0 L752.6,964.6 L754.8,961.2 L756.9,957.8 L759.0,954.4 L761.2,951.1 L763.3,947.7 L765.4,944.3 L767.6,940.9 L769.7,937.5 L771.8,934.1 L773.9,930.7 L776.1,927.3 L778.2,924.0 L780.3,920.6 L782.5,917.2 L784.6,913.8 L786.7,910.4 L788.8,907.0 L791.0,903.6 L793.1,900.2 L795.2,896.9 L797.4,893.5 L799.5,890.1 L801.7,886.8 L803.9,883.4 L806.1,880.1 L808.4,876.8 L810.6,873.4 L812.8,870.1 L815.0,866.8 L817.2,863.4 L819.5,860.1 L821.7,856.8 L823.9,853.4 L826.1,850.1 L828.3,846.8 L830.6,843.5 L832.8,840.1 L835.0,836.8 L837.3,833.5 L839.6,830.2 L841.8,826.9 L844.1,823.7 L846.4,820.4 L848.7,817.1 L850.9,813.8 L853.2,810.5 L855.5,807.2 L857.8,803.9 L860.0,800.6 L862.3,797.3 L864.6,794.0 L866.9,790.7 L869.2,787.5 L871.5,784.2 L873.8,780.9 L876.1,777.7 L878.5,774.4 L880.8,771.2 L883.1,767.9 L885.5,764.7 L887.8,761.4 L890.1,758.2 L892.4,754.9 L894.8,751.6 L897.1,748.4 L899.4,745.1 L901.8,741.9 L904.2,738.7 L906.5,735.5 L908.9,732.3 L911.3,729.0 L913.7,725.8 L916.1,722.6 L918.5,719.4 L920.8,716.2 L923.2,713.0 L925.6,709.8 L928.0,706.5 L930.3,703.3 L932.7,700.1 L935.0,696.8 L937.3,693.5 L939.5,690.2 L941.8,686.9 L944.0,683.6 L946.3,680.3 L948.5,677.0 L950.8,673.7 L953.0,670.3 L955.3,667.0 L957.5,663.7 L959.8,660.4 L962.0,657.1 L964.3,653.8 L966.5,650.5 L968.7,647.2 L971.0,643.9 L973.2,640.5 L975.5,637.2 L977.7,633.9 L980.0,630.6 L982.2,627.3 L984.5,624.0 L986.8,620.7 L989.1,617.5 L991.5,614.3 L994.0,611.1 L996.5,608.0 L998.9,604.8 L1001.4,601.7 L1003.9,598.6 L1006.4,595.4 L1008.9,592.3 L1011.3,589.1 L1013.8,585.9 L1016.2,582.7 L1018.5,579.5 L1020.9,576.3 L1023.3,573.1 L1025.6,569.9 L1028.0,566.6 L1030.4,563.4 L1032.8,560.2 L1035.3,557.1 L1037.8,553.9 L1040.2,550.8 L1042.7,547.7 L1045.2,544.6 L1047.7,541.4 L1050.2,538.3 L1052.7,535.2 L1055.2,532.0 L1057.7,528.9 L1060.2,525.8 L1062.8,522.7 L1065.3,519.6 L1067.9,516.5 L1070.4,513.5 L1073.0,510.4 L1075.6,507.3 L1078.1,504.2 L1080.7,501.2 L1083.2,498.1 L1085.8,495.0 L1088.4,492.0 L1091.0,488.9 L1093.6,485.9 L1096.3,483.0 L1099.1,480.1 L1101.8,477.1 L1104.5,474.2 L1107.3,471.3 L1110.0,468.4 L1112.8,465.5 L1115.5,462.6 L1118.4,459.7 L1121.2,456.9 L1124.0,454.1 L1126.8,451.3 L1129.7,448.4 L1132.5,445.6 L1135.3,442.8 L1138.2,439.9 L1141.0,437.1 L1143.8,434.3 L1146.7,431.5 L1149.6,428.7 L1152.5,426.0 L1155.4,423.2 L1158.3,420.5 L1161.2,417.7 L1164.1,415.0 L1167.0,412.2 L1169.9,409.5 L1172.8,406.7 L1175.7,404.0 L1178.7,401.3 L1181.7,398.6 L1184.7,396.0 L1187.8,393.5 L1190.9,390.9 L1194.0,388.4 L1197.1,385.8 L1200.1,383.3 L1203.2,380.7 L1206.3,378.2 L1209.4,375.6 L1212.5,373.1 L1215.5,370.5 L1218.6,367.9 L1221.6,365.2 L1224.5,362.6 L1227.5,359.9 L1230.5,357.2 L1233.5,354.5 L1236.4,351.8 L1239.4,349.2 L1242.4,346.5 L1245.4,343.8 L1248.3,341.2 L1251.3,338.5 L1254.4,335.9 L1257.4,333.2 L1260.4,330.6 L1263.4,328.0 L1266.4,325.4 L1269.5,322.8 L1272.5,320.2 L1275.7,317.7 L1278.9,315.3 L1282.1,313.0 L1285.4,310.7 L1288.7,308.4 L1291.9,306.1 L1295.2,303.8 L1298.5,301.5 L1301.9,299.4 L1305.4,297.5 L1309.0,295.9 L1312.7,294.4 L1316.4,293.0 L1320.3,291.9 L1324.1,291.1 L1328.1,290.7 L1332.0,290.6 L1335.9,290.9 L1339.8,291.7 L1343.7,292.6 L1347.4,293.9 L1351.0,295.5 L1354.4,297.5 L1357.7,299.8 L1360.9,302.1 L1364.0,304.6 L1366.9,307.3 L1369.7,310.2 L1372.4,313.1 L1374.7,316.3 L1376.5,319.7 L1377.7,323.4 L1378.6,327.3 L1379.3,331.2 L1379.8,335.1 L1380.2,339.1 L1380.4,343.1 L1380.6,347.1 L1380.7,351.1 L1380.7,355.1 L1380.8,359.1 L1381.0,363.1 L1381.3,367.1 L1381.7,371.0 L1382.2,375.0 L1382.7,379.0 L1383.3,383.0 L1383.9,386.9 L1384.5,390.9 L1385.2,394.8 L1385.8,398.8 L1386.5,402.7 L1387.1,406.7 L1387.7,410.6 L1388.3,414.6 L1388.9,418.5 L1389.5,422.5 L1390.2,426.4 L1390.8,430.4 L1391.4,434.3 L1392.0,438.3 L1392.6,442.2 L1393.2,446.2 L1393.8,450.2 L1394.4,454.1 L1395.0,458.1 L1395.5,462.0 L1395.9,466.0 L1396.3,470.0 L1396.6,474.0 L1397.0,478.0 L1397.3,482.0 L1397.7,485.9 L1398.1,489.9 L1398.5,493.9 L1398.9,497.9 L1399.3,501.9 L1399.8,505.8 L1400.3,509.8 L1401.0,513.7 L1401.7,517.7 L1402.3,521.6 L1402.9,525.6 L1403.4,529.6 L1403.9,533.5 L1404.2,537.5 L1404.5,541.5 L1404.7,545.5 L1404.8,549.5 L1404.9,553.5 L1405.0,557.5 L1405.1,561.5 L1405.2,565.5 L1405.2,569.5 L1405.2,573.5 L1405.2,577.5 L1405.2,581.5 L1405.2,585.5 L1405.2,589.5 L1405.2,593.5 L1405.2,597.5 L1405.2,601.5 L1405.2,605.5 L1405.2,609.5 L1405.3,613.5 L1405.3,617.5 L1405.4,621.5 L1405.5,625.5 L1405.7,629.5 L1405.8,633.5 L1405.9,637.5 L1406.0,641.5 L1406.1,645.5 L1406.1,649.5 L1406.1,653.5 L1406.2,657.5 L1406.2,661.5 L1406.2,665.5 L1406.3,669.5 L1406.3,673.5 L1406.3,677.5 L1406.4,681.5 L1406.4,685.5 L1406.5,689.5 L1406.5,693.5 L1406.5,697.5 L1406.6,701.5 L1406.6,705.5 L1406.7,709.5 L1406.7,713.5 L1406.7,717.5 L1406.8,721.5 L1406.8,725.5 L1406.9,729.5 L1407.0,733.5 L1407.2,737.5 L1407.3,741.5 L1407.6,745.5 L1407.8,749.5 L1408.0,753.5 L1408.3,757.5 L1408.6,761.5 L1409.0,765.5 L1409.4,769.4 L1409.9,773.4 L1410.3,777.4 L1410.7,781.4" fill="none" stroke="#ff0000" stroke-width="5.5" stroke-linejoin="round" stroke-linecap="round"/><path d="M191.0,1491.4 L194.8,1490.3 L198.7,1489.2 L202.5,1488.1 L206.4,1487.0 L210.2,1485.9 L214.1,1484.8 L217.9,1483.7 L221.8,1482.6 L225.6,1481.6 L229.5,1480.6 L233.4,1479.7 L237.3,1478.9 L241.2,1478.0 L245.1,1477.1 L249.0,1476.2 L252.9,1475.3 L256.8,1474.5 L260.8,1473.6 L264.7,1472.8 L268.6,1472.1 L272.5,1471.3 L276.5,1470.5 L280.4,1469.7 L284.3,1468.9 L288.2,1468.1 L292.2,1467.4 L296.1,1466.8 L300.1,1466.1 L304.0,1465.5 L308.0,1464.9 L311.9,1464.4 L315.9,1463.8 L319.8,1463.2 L323.8,1462.6 L327.8,1462.0 L331.7,1461.4 L335.7,1460.8 L339.6,1460.2 L343.6,1459.4 L347.5,1458.6 L351.4,1457.8 L355.3,1456.9 L359.2,1456.0 L363.1,1455.1 L367.0,1454.3 L370.9,1453.4 L374.8,1452.6 L378.8,1452.0 L382.8,1451.6 L386.7,1451.2 L390.7,1450.8 L394.7,1450.3 L398.7,1449.8 L402.6,1449.3 L406.6,1448.7 L410.6,1448.2 L414.5,1447.7 L418.5,1447.1 L422.4,1446.4 L426.4,1445.8 L430.3,1445.1 L434.3,1444.5 L438.2,1443.8 L442.2,1443.2 L446.1,1442.6 L450.1,1442.0 L454.0,1441.3 L457.9,1440.6 L461.8,1439.5 L465.6,1438.2 L469.3,1436.9 L473.1,1435.5 L476.8,1434.1 L480.6,1432.8 L484.4,1431.5 L488.2,1430.3 L492.0,1429.2 L495.9,1428.0 L499.7,1426.9 L503.6,1425.8 L507.4,1424.7 L511.2,1423.5 L515.0,1422.3 L518.8,1421.0 L522.6,1419.8 L526.4,1418.5 L530.2,1417.2 L534.0,1416.0 L537.8,1414.7 L541.6,1413.3 L545.3,1411.8 L549.0,1410.3 L552.7,1408.8 L556.4,1407.3 L560.1,1405.7 L563.8,1404.2 L567.5,1402.7 L571.2,1401.2 L574.9,1399.6 L578.6,1398.0 L582.2,1396.3 L585.8,1394.6 L589.4,1392.9 L593.0,1391.2 L596.6,1389.5 L600.3,1387.8 L603.9,1386.0 L607.5,1384.3 L611.1,1382.5 L614.6,1380.7 L618.2,1378.8 L621.7,1377.0 L625.3,1375.1 L628.8,1373.3 L632.3,1371.4 L635.9,1369.5 L639.4,1367.7 L642.9,1365.7 L646.3,1363.7 L649.7,1361.6 L653.1,1359.4 L656.5,1357.3 L659.9,1355.1 L663.3,1353.0 L666.7,1350.9 L670.1,1348.9 L673.6,1346.9 L677.1,1345.0 L680.6,1343.0 L684.1,1341.0 L687.5,1339.0 L690.9,1336.9 L694.3,1334.7 L697.7,1332.6 L701.0,1330.4 L704.4,1328.3 L707.8,1326.2 L711.2,1324.0 L714.5,1321.8 L717.9,1319.6 L721.2,1317.5 L724.6,1315.2 L727.9,1313.0 L731.1,1310.6 L734.3,1308.2 L737.5,1305.8 L740.7,1303.4 L744.0,1301.1 L747.3,1298.9 L750.6,1296.7 L754.0,1294.5 L757.3,1292.3 L760.6,1290.0 L763.9,1287.7 L767.1,1285.4 L770.4,1283.0 L773.6,1280.6 L776.8,1278.3 L780.0,1275.9 L783.3,1273.5 L786.5,1271.2 L789.7,1268.8 L792.9,1266.4 L796.2,1264.1 L799.4,1261.7 L802.6,1259.3 L805.9,1257.0 L809.1,1254.6 L812.4,1252.3 L815.6,1250.0 L818.9,1247.7 L822.2,1245.4 L825.5,1243.1 L828.7,1240.8 L832.0,1238.5 L835.3,1236.2 L838.5,1233.9 L841.8,1231.5 L845.0,1229.1 L848.1,1226.7 L851.2,1224.2 L854.4,1221.6 L857.5,1219.1 L860.6,1216.6 L863.7,1214.1 L866.8,1211.6 L869.9,1209.1 L873.0,1206.6 L876.2,1204.1 L879.3,1201.6 L882.5,1199.1 L885.6,1196.7 L888.8,1194.2 L891.9,1191.8 L895.1,1189.3 L898.3,1186.9 L901.4,1184.4 L904.6,1182.0 L907.8,1179.5 L911.0,1177.1 L914.2,1174.7 L917.4,1172.4 L920.6,1170.0 L923.9,1167.7 L927.1,1165.3 L930.4,1163.0 L933.6,1160.6 L936.8,1158.3 L940.1,1155.9 L943.3,1153.6 L946.5,1151.2 L949.7,1148.8 L952.9,1146.4 L956.1,1144.0 L959.3,1141.6 L962.5,1139.2 L965.7,1136.8 L968.9,1134.4 L972.1,1132.0 L975.3,1129.5 L978.4,1126.9 L981.3,1124.3 L984.2,1121.5 L987.1,1118.8 L990.0,1116.0 L992.9,1113.2 L995.8,1110.5 L998.7,1107.7 L1001.6,1105.0 L1004.5,1102.2 L1007.4,1099.5 L1010.4,1096.7 L1013.3,1094.0 L1016.3,1091.3 L1019.3,1088.7 L1022.2,1086.0 L1025.2,1083.3 L1028.1,1080.6 L1031.1,1077.9 L1034.0,1075.2 L1036.9,1072.4 L1039.9,1069.7 L1042.8,1067.0 L1045.7,1064.2 L1048.6,1061.5 L1051.6,1058.8 L1054.6,1056.1 L1057.6,1053.5 L1060.6,1050.9 L1063.6,1048.3 L1066.7,1045.7 L1069.7,1043.0 L1072.7,1040.4 L1075.8,1037.8 L1078.8,1035.2 L1081.9,1032.6 L1084.9,1030.1 L1088.0,1027.5 L1091.1,1025.0 L1094.2,1022.4 L1097.2,1019.8 L1100.3,1017.3 L1103.5,1014.8 L1106.6,1012.3 L1109.8,1009.9 L1113.0,1007.5 L1116.1,1005.0 L1119.3,1002.6 L1122.5,1000.1 L1125.6,997.7 L1128.7,995.2 L1131.8,992.6 L1134.9,990.0 L1137.9,987.4 L1141.0,984.8 L1144.0,982.2 L1147.1,979.6 L1150.1,977.0 L1153.1,974.4 L1156.1,971.8 L1159.2,969.2 L1162.2,966.5 L1165.2,963.9 L1168.2,961.3 L1171.3,958.8 L1174.4,956.2 L1177.5,953.7 L1180.7,951.2 L1183.8,948.7 L1186.9,946.2 L1190.0,943.7 L1193.2,941.2 L1196.2,938.7 L1199.3,936.1 L1202.4,933.5 L1205.4,930.9 L1208.5,928.3 L1211.6,925.8 L1214.8,923.5 L1218.1,921.1 L1221.3,918.8 L1224.6,916.5 L1227.9,914.2 L1231.2,912.0 L1234.4,909.7 L1237.7,907.4 L1241.0,905.1 L1244.3,902.8 L1247.6,900.5 L1250.8,898.1 L1254.0,895.7 L1257.1,893.2 L1260.2,890.7 L1263.3,888.1 L1266.4,885.6 L1269.4,883.0 L1272.5,880.5 L1275.6,877.9 L1278.8,875.5 L1282.1,873.3 L1285.5,871.1 L1288.8,869.0 L1292.2,866.8 L1295.6,864.7 L1299.0,862.5 L1302.3,860.4 L1305.7,858.2 L1309.0,856.0 L1312.4,853.8 L1315.7,851.5 L1319.0,849.3 L1322.4,847.1 L1325.7,844.9 L1329.0,842.7 L1332.3,840.4 L1335.7,838.2 L1339.0,836.0 L1342.3,833.8 L1345.7,831.6 L1349.0,829.4 L1352.4,827.2 L1355.9,825.3 L1359.4,823.4 L1363.0,821.6 L1366.5,819.8 L1370.0,817.8 L1373.4,815.7 L1376.7,813.4 L1380.0,811.1 L1383.3,808.9 L1386.6,806.7 L1390.1,804.7 L1393.6,802.8 L1397.1,800.9 L1400.6,799.0 L1404.2,797.1 L1407.7,795.2 L1411.2,793.3 L1414.7,791.4 L1418.2,789.4 L1421.7,787.5 L1425.2,785.5 L1428.6,783.5 L1432.1,781.5 L1435.5,779.4 L1438.7,777.1 L1442.0,774.8 L1445.5,772.8 L1449.0,771.0 L1452.6,769.2 L1456.2,767.4 L1459.7,765.6 L1463.3,763.8 L1466.9,762.1 L1470.6,760.4 L1474.2,758.8 L1477.8,757.1 L1481.5,755.5 L1485.1,753.7 L1488.7,752.0 L1492.3,750.2 L1495.9,748.4 L1499.5,746.7 L1503.1,745.1 L1506.8,743.6 L1510.6,742.1 L1514.3,740.7 L1518.0,739.3 L1521.8,738.0 L1525.7,736.8 L1529.5,735.6 L1533.3,734.5 L1537.2,733.5 L1541.0,733.0 L1544.9,733.3 L1548.8,734.0 L1552.7,734.9 L1556.6,735.8 L1566.6,740.0 L1569.1,748.3 L1569.6,761.6 L1572.9,765.8 L1580.8,757.4 L1584.9,747.5 L1589.9,741.6 L1598.2,745.8 L1603.2,750.8 L1613.2,757.4 L1619.9,766.6 L1629.9,776.6 L1636.5,786.6 L1644.0,800.7 L1644.0,816.6 L1644.0,829.9 L1646.5,846.5 L1649.9,856.5 L1654.8,871.5 L1661.5,883.2 L1664.0,895.6" fill="none" stroke="#0000ff" stroke-width="5.5" stroke-linejoin="round" stroke-linecap="round"/><rect x="176.6" y="28.5" width="1828.9" height="1473.6" fill="none" stroke="#000" stroke-width="5.6"/><path d="M176.6,1502.1 V1484.1 M342.9,1502.1 V1491.1 M509.1,1502.1 V1484.1 M675.4,1502.1 V1491.1 M841.7,1502.1 V1484.1 M1007.9,1502.1 V1491.1 M1174.2,1502.1 V1484.1 M1340.4,1502.1 V1491.1 M1506.7,1502.1 V1484.1 M1673.0,1502.1 V1491.1 M1839.2,1502.1 V1484.1 M2005.5,1502.1 V1491.1 M176.6,1502.1 H194.6 M176.6,1410.0 H187.6 M176.6,1317.9 H194.6 M176.6,1225.8 H187.6 M176.6,1133.7 H194.6 M176.6,1041.6 H187.6 M176.6,949.5 H194.6 M176.6,857.4 H187.6 M176.6,765.3 H194.6 M176.6,673.2 H187.6 M176.6,581.1 H194.6 M176.6,489.0 H187.6 M176.6,396.9 H194.6 M176.6,304.8 H187.6 M176.6,212.7 H194.6 M176.6,120.6 H187.6 M176.6,28.5 H194.6" stroke="#000" stroke-width="5.6" fill="none"/><path d="M211.7,92.4 H382.2" stroke="#00ff00" stroke-width="5.5" stroke-linecap="round"/><path d="M211.7,186.8 H382.2" stroke="#000000" stroke-width="5.5" stroke-linecap="round"/><path d="M211.7,281.0 H382.2" stroke="#ff0000" stroke-width="5.5" stroke-linecap="round"/><path d="M211.7,375.4 H382.2" stroke="#0000ff" stroke-width="5.5" stroke-linecap="round"/><g font-family="'Liberation Serif','Times New Roman',serif" font-size="77" fill="#000"><text transform="translate(176.9,1581.0) scale(1,1.03)" text-anchor="middle">0.0</text><text transform="translate(509.4,1581.0) scale(1,1.03)" text-anchor="middle">0.2</text><text transform="translate(842.0,1581.0) scale(1,1.03)" text-anchor="middle">0.4</text><text transform="translate(1174.5,1581.0) scale(1,1.03)" text-anchor="middle">0.6</text><text transform="translate(1507.0,1581.0) scale(1,1.03)" text-anchor="middle">0.8</text><text transform="translate(1839.5,1581.0) scale(1,1.03)" text-anchor="middle">1.0</text><text transform="translate(157.6,1524.7) scale(1,1.03)" text-anchor="end">0</text><text transform="translate(157.6,1340.5) scale(1,1.03)" text-anchor="end">10</text><text transform="translate(157.6,1156.3) scale(1,1.03)" text-anchor="end">20</text><text transform="translate(157.6,972.1) scale(1,1.03)" text-anchor="end">30</text><text transform="translate(157.6,787.9) scale(1,1.03)" text-anchor="end">40</text><text transform="translate(157.6,603.7) scale(1,1.03)" text-anchor="end">50</text><text transform="translate(157.6,419.5) scale(1,1.03)" text-anchor="end">60</text><text transform="translate(157.6,235.3) scale(1,1.03)" text-anchor="end">70</text><text transform="translate(157.6,51.1) scale(1,1.03)" text-anchor="end">80</text><text transform="translate(1092.3,1702.3) scale(1,1.03)" text-anchor="middle">Strain (%)</text><text transform="translate(401.0,118.0) scale(1,1.03)" text-anchor="start">Proposed model</text><text transform="translate(401.0,212.4) scale(1,1.03)" text-anchor="start">Ke et al., 2018</text><text transform="translate(401.0,306.6) scale(1,1.03)" text-anchor="start">Zhou et al., 2020</text><text transform="translate(401.0,401.0) scale(1,1.03)" text-anchor="start">Feng et al., 2022</text></g><text transform="translate(53.6,764.5) rotate(-90) scale(1,1.03)" text-anchor="middle" font-family="'Liberation Serif','Times New Roman',serif" font-size="77">Stress (MPa)</text></svg>
</body></html>
